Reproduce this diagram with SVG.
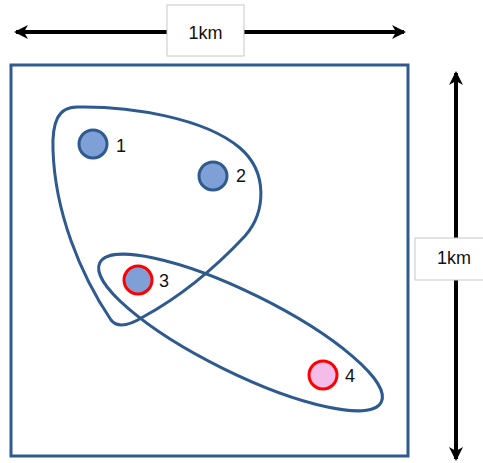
<svg xmlns="http://www.w3.org/2000/svg" width="483" height="463" viewBox="0 0 483 463">
<style>
.lbl{font-family:"Liberation Sans",Arial,sans-serif;font-size:18px;fill:#111}
.box{fill:#fff;stroke:#c8c8c8;stroke-width:1}
.dim{stroke:#000;stroke-width:4;fill:none}
.loop{fill:none;stroke:#2f5a8f;stroke-width:3}
.pt{stroke-width:3}
</style>
<defs>
<marker id="ah" viewBox="0 0 14 14" refX="12" refY="7" markerWidth="14" markerHeight="14" markerUnits="userSpaceOnUse" orient="auto-start-reverse">
<path d="M0,0 L14,7 L0,14 L4,7 Z" fill="#000"/>
</marker>
</defs>
<rect width="483" height="463" fill="#fff"/>
<g id="connectors">
<line class="dim" x1="16" y1="32" x2="404" y2="32" marker-start="url(#ah)" marker-end="url(#ah)"/>
<line class="dim" x1="456" y1="73" x2="456" y2="459" marker-start="url(#ah)" marker-end="url(#ah)"/>
</g>
<g id="area">
<rect x="11" y="65" width="397" height="391" fill="none" stroke="#2f5a8f" stroke-width="3"/>
</g>
<g id="width-label">
<rect class="box" x="167" y="5" width="77" height="51"/>
<text class="lbl" x="205.5" y="39" text-anchor="middle">1km</text>
</g>
<g id="height-label">
<rect class="box" x="415" y="238" width="70" height="42"/>
<text class="lbl" x="454" y="264" text-anchor="middle">1km</text>
</g>
<g id="group-a">
<path class="loop" d="M77,107 C130,106 205,118 240,148 C268,172 266,212 245,236 C215,268 178,298 143,317 C130,325 118,329 111,320 C80,274 55,212 53,150 C52,122 58,107 77,107 Z"/>
</g>
<g id="group-b">
<ellipse class="loop" cx="240.5" cy="332.5" rx="157" ry="40" transform="rotate(26.3 240.5 332.5)"/>
</g>
<g id="node1">
<circle class="pt" cx="93" cy="144" r="14" fill="#7ea0d6" stroke="#2f5a8f"/>
<text class="lbl" x="116" y="152">1</text>
</g>
<g id="node2">
<circle class="pt" cx="213" cy="176" r="14" fill="#7ea0d6" stroke="#2f5a8f"/>
<text class="lbl" x="236" y="182">2</text>
</g>
<g id="node3">
<circle class="pt" cx="138" cy="280" r="14" fill="#7ea0d6" stroke="#ff0000"/>
<text class="lbl" x="159" y="287">3</text>
</g>
<g id="node4">
<circle class="pt" cx="323" cy="375" r="14" fill="#f4bce8" stroke="#ff0000"/>
<text class="lbl" x="345" y="382">4</text>
</g>
</svg>
